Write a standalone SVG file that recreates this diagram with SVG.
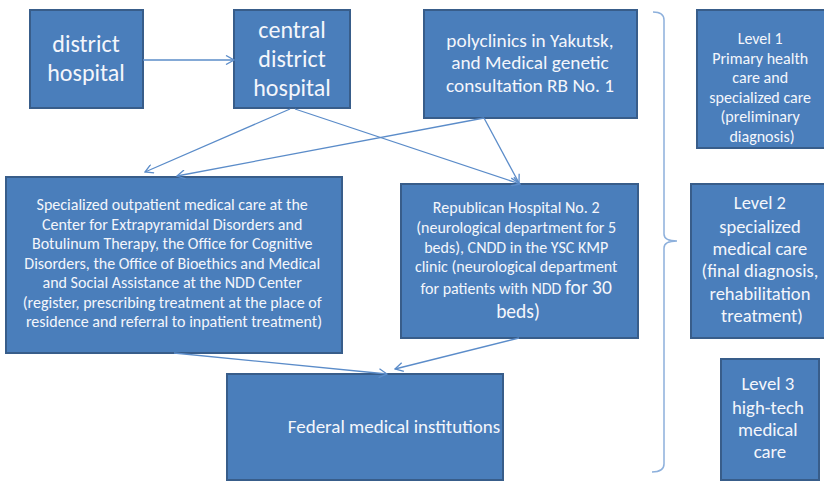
<svg xmlns="http://www.w3.org/2000/svg" width="824" height="481" viewBox="0 0 824 481">
  <defs>
    <marker id="arrow" viewBox="0 0 10 10" refX="9" refY="5" markerWidth="10" markerHeight="10" markerUnits="userSpaceOnUse" orient="auto">
      <path d="M1,0.5 L9,5 L1,9.5" fill="none" stroke="#5b8cc9" stroke-width="1.3"/>
    </marker>
  </defs>
  <style>
    .box { fill: #4a7ebb; stroke: #385d8a; stroke-width: 2; }
    .lbl { fill: #f4f6fb; font-family: Carlito, Lato, "Liberation Sans", sans-serif; text-anchor: middle; }
    .edge { fill: none; stroke: #5b8cc9; stroke-width: 1.3; marker-end: url(#arrow); }
    .brace { fill: none; stroke: #8db0dc; stroke-width: 1.5; }
  </style>
  <rect width="824" height="481" fill="#ffffff"/>

  <g id="district-hospital">
    <rect class="box" x="30" y="10" width="113" height="98"/>
    <text class="lbl" font-size="24"><tspan x="86" y="52">district</tspan><tspan x="86" y="81">hospital</tspan></text>
  </g>

  <g id="central-district-hospital">
    <rect class="box" x="234" y="10" width="116" height="98"/>
    <text class="lbl" font-size="24"><tspan x="292" y="38">central</tspan><tspan x="292" y="67">district</tspan><tspan x="292" y="96">hospital</tspan></text>
  </g>

  <g id="polyclinics">
    <rect class="box" x="424" y="10" width="213" height="108"/>
    <text class="lbl" font-size="19.3"><tspan x="530" y="47">polyclinics in Yakutsk,</tspan><tspan x="530" y="69">and Medical genetic</tspan><tspan x="530" y="92">consultation RB No. 1</tspan></text>
  </g>

  <g id="outpatient-care">
    <rect class="box" x="6" y="177" width="336" height="176"/>
    <text class="lbl" font-size="16">
      <tspan x="174" y="210">Specialized outpatient medical care at the</tspan>
      <tspan x="174" y="230">Center for Extrapyramidal Disorders and</tspan>
      <tspan x="174" y="249">Botulinum Therapy, the Office for Cognitive</tspan>
      <tspan x="174" y="269">Disorders, the Office of Bioethics and Medical</tspan>
      <tspan x="174" y="288">and Social Assistance at the NDD Center</tspan>
      <tspan x="174" y="308">(register, prescribing treatment at the place of</tspan>
      <tspan x="174" y="327">residence and referral to inpatient treatment)</tspan>
    </text>
  </g>

  <g id="republican-hospital">
    <rect class="box" x="401" y="184" width="237" height="154"/>
    <text class="lbl" font-size="16">
      <tspan x="518" y="213">Republican Hospital No. 2</tspan>
      <tspan x="518" y="233">(neurological department for 5</tspan>
      <tspan x="518" y="253">beds), CNDD in the YSC KMP</tspan>
      <tspan x="518" y="272">clinic (neurological department</tspan>
      <tspan x="518" y="294">for patients with NDD <tspan font-size="19.5">for 30</tspan></tspan>
      <tspan x="518" y="318" font-size="19.5">beds)</tspan>
    </text>
  </g>

  <g id="federal-institutions">
    <rect class="box" x="227" y="374" width="276" height="106"/>
    <text class="lbl" font-size="19" x="394" y="433">Federal medical institutions</text>
  </g>

  <g id="level-1">
    <rect class="box" x="697" y="10" width="130" height="138"/>
    <text class="lbl" font-size="16">
      <tspan x="762" y="44">Level 1</tspan>
      <tspan x="762" y="64">Primary health</tspan>
      <tspan x="762" y="83">care and</tspan>
      <tspan x="762" y="103">specialized care</tspan>
      <tspan x="762" y="122">(preliminary</tspan>
      <tspan x="762" y="142">diagnosis)</tspan>
    </text>
  </g>

  <g id="level-2">
    <rect class="box" x="691" y="184" width="142" height="154"/>
    <text class="lbl" font-size="18.5">
      <tspan x="762" y="209">Level 2</tspan>
      <tspan x="762" y="233">specialized</tspan>
      <tspan x="762" y="255">medical care</tspan>
      <tspan x="762" y="277">(final diagnosis,</tspan>
      <tspan x="762" y="300">rehabilitation</tspan>
      <tspan x="762" y="322">treatment)</tspan>
    </text>
  </g>

  <g id="level-3">
    <rect class="box" x="721" y="359" width="98" height="121"/>
    <text class="lbl" font-size="18.8">
      <tspan x="770" y="390">Level 3</tspan>
      <tspan x="770" y="414">high-tech</tspan>
      <tspan x="770" y="436">medical</tspan>
      <tspan x="770" y="458">care</tspan>
    </text>
  </g>

  <g id="connectors">
    <line class="edge" x1="143" y1="60" x2="234" y2="60"/>
    <line class="edge" x1="290" y1="109" x2="145" y2="172"/>
    <line class="edge" x1="295" y1="109" x2="520" y2="184"/>
    <line class="edge" x1="484" y1="118" x2="177" y2="176"/>
    <line class="edge" x1="484" y1="118" x2="519" y2="183"/>
    <line class="edge" x1="174" y1="353" x2="387" y2="374"/>
    <line class="edge" x1="519" y1="338" x2="395" y2="369"/>
  </g>

  <g id="level-brace">
    <path class="brace" d="M653,12 Q664,12 664,20 L664,234 Q664,241 677,241 Q664,241 664,248 L664,464 Q664,472 652,472"/>
  </g>
</svg>
